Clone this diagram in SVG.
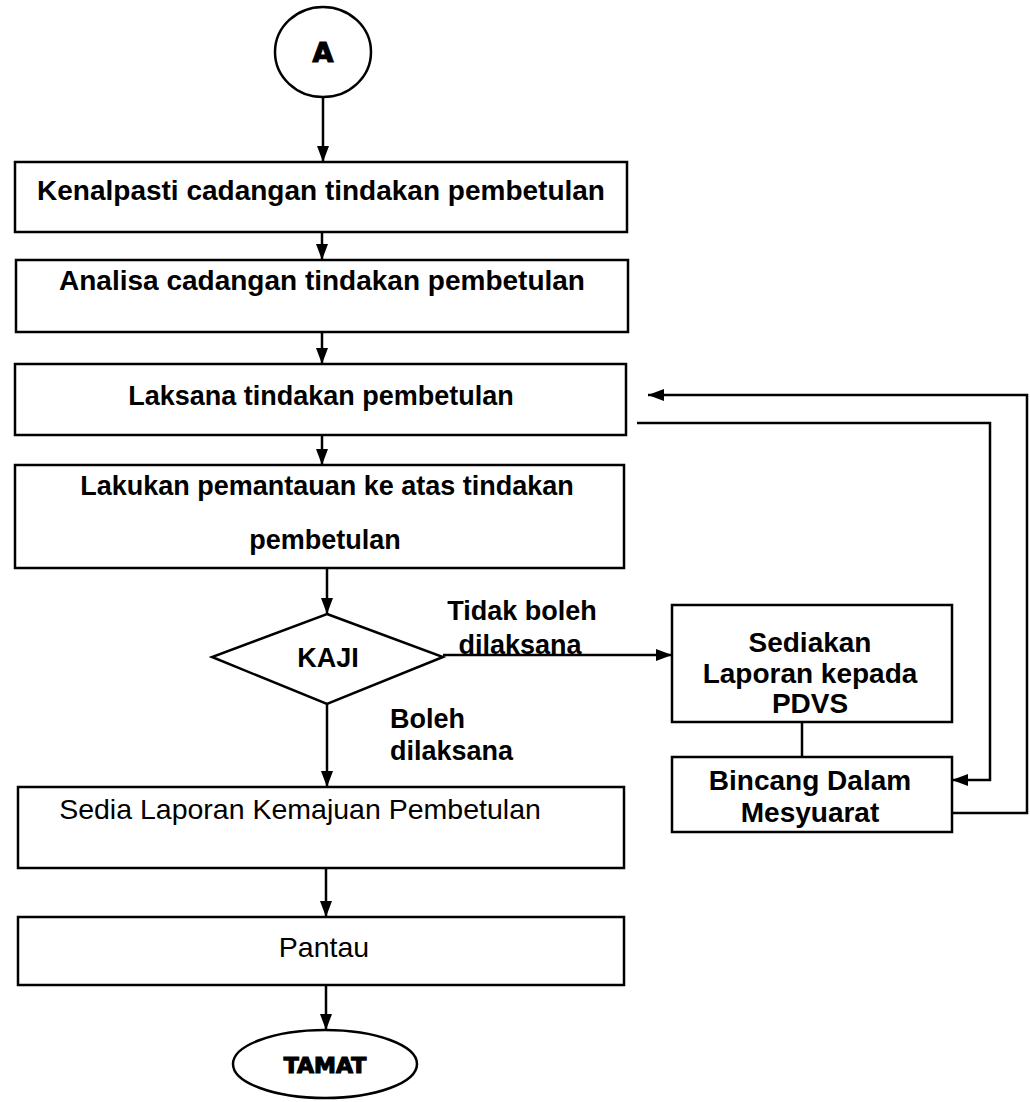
<svg xmlns="http://www.w3.org/2000/svg" width="1030" height="1102" viewBox="0 0 1030 1102">
<style>
.box{fill:#fff;stroke:#000;stroke-width:2.5}
.t{font-family:"Liberation Sans",Arial,sans-serif;font-size:27px;font-weight:bold;fill:#000;text-anchor:middle}
.big{font-size:28px}
.r{font-weight:normal;font-size:28.5px}
.l{text-anchor:start}
.heavy{font-family:"DejaVu Sans","Liberation Sans",sans-serif;font-weight:bold;fill:#000;stroke:#000;stroke-width:1.2;text-anchor:middle}
.c{fill:none;stroke:#000;stroke-width:2.5}
</style>
<defs>
<marker id="ah" viewBox="0 0 16 12" refX="16" refY="6" markerWidth="16" markerHeight="12" markerUnits="userSpaceOnUse" orient="auto">
<path d="M0,0 L16,6 L0,12 z" fill="#000"/>
</marker>
</defs>
<rect width="1030" height="1102" fill="#fff"/>
<g id="connectors">
<line class="c" x1="323" y1="97" x2="323" y2="162" marker-end="url(#ah)"/>
<line class="c" x1="322" y1="232" x2="322" y2="260" marker-end="url(#ah)"/>
<line class="c" x1="322" y1="332" x2="322" y2="364" marker-end="url(#ah)"/>
<line class="c" x1="322" y1="435" x2="322" y2="465" marker-end="url(#ah)"/>
<line class="c" x1="327" y1="568" x2="327" y2="614" marker-end="url(#ah)"/>
<line class="c" x1="327" y1="704" x2="327" y2="787" marker-end="url(#ah)"/>
<line class="c" x1="326" y1="868" x2="326" y2="917" marker-end="url(#ah)"/>
<line class="c" x1="326" y1="985" x2="326" y2="1030" marker-end="url(#ah)"/>
<line class="c" x1="443" y1="655" x2="672" y2="655" marker-end="url(#ah)"/>
<line class="c" x1="802" y1="722" x2="802" y2="757"/>
<path class="c" d="M952,813 L1027,813 L1027,395 L648,395" marker-end="url(#ah)"/>
<path class="c" d="M637,423 L990,423 L990,780 L952,780" marker-end="url(#ah)"/>
</g>
<g id="start">
<ellipse cx="323" cy="52" rx="48" ry="45" fill="#fff" stroke="#000" stroke-width="2.5"/>
<text class="heavy" x="323" y="62" font-size="27">A</text>
</g>
<g id="n1">
<rect class="box" x="15" y="162" width="612" height="70"/>
<text class="t big" x="321" y="200">Kenalpasti cadangan tindakan pembetulan</text>
</g>
<g id="n2">
<rect class="box" x="16" y="260" width="612" height="72"/>
<text class="t big" x="322" y="290">Analisa cadangan tindakan pembetulan</text>
</g>
<g id="n3">
<rect class="box" x="15" y="364" width="611" height="71"/>
<text class="t" x="321" y="405">Laksana tindakan pembetulan</text>
</g>
<g id="n4">
<rect class="box" x="15" y="465" width="609" height="103"/>
<text class="t" x="327" y="495">Lakukan pemantauan ke atas tindakan</text>
<text class="t" x="325" y="549">pembetulan</text>
</g>
<g id="kaji">
<polygon points="327,614 443,657 327,704 212,657" fill="#fff" stroke="#000" stroke-width="2.5"/>
<text class="t" x="328" y="667">KAJI</text>
</g>
<g id="labels">
<text class="t" x="522" y="620">Tidak boleh</text>
<text class="t" x="520" y="654">dilaksana</text>
<text class="t l" x="390" y="728">Boleh</text>
<text class="t l" x="390" y="760">dilaksana</text>
</g>
<g id="n5">
<rect class="box" x="18" y="787" width="606" height="81"/>
<text class="t r" x="300" y="819">Sedia Laporan Kemajuan Pembetulan</text>
</g>
<g id="n6">
<rect class="box" x="18" y="917" width="606" height="68"/>
<text class="t r" x="324" y="957">Pantau</text>
</g>
<g id="end">
<ellipse cx="325" cy="1064" rx="92" ry="34" fill="#fff" stroke="#000" stroke-width="2.5"/>
<text class="heavy" x="325" y="1073" font-size="22">TAMAT</text>
</g>
<g id="n7">
<rect class="box" x="672" y="605" width="280" height="117"/>
<text class="t big" x="810" y="652">Sediakan</text>
<text class="t big" x="810" y="683">Laporan kepada</text>
<text class="t big" x="810" y="713">PDVS</text>
</g>
<g id="n8">
<rect class="box" x="672" y="757" width="280" height="75"/>
<text class="t big" x="810" y="790">Bincang Dalam</text>
<text class="t big" x="810" y="822">Mesyuarat</text>
</g>
</svg>
